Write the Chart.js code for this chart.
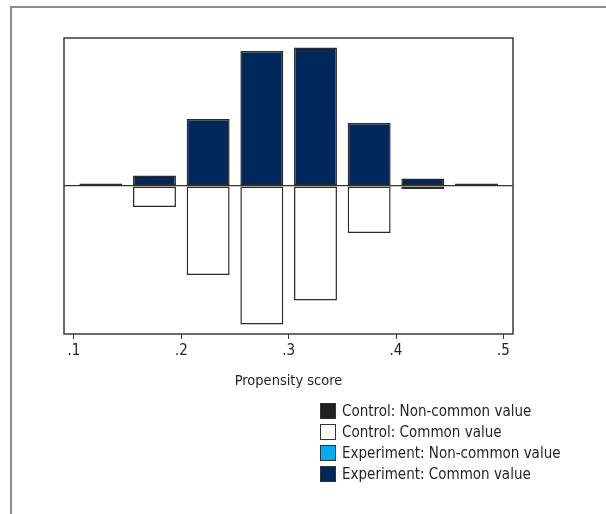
<!DOCTYPE html>
<html>
<head>
<meta charset="utf-8">
<script src="https://cdn.jsdelivr.net/npm/chart.js@4.4.1/dist/chart.umd.min.js"></script>
<style>
    html, body { margin: 0; padding: 0; background: #fff; }
    #wrap { position: relative; width: 606px; height: 514px; overflow: hidden; }
    #frame { position: absolute; left: 10px; top: 6px; width: 700px; height: 600px; border-top: 2px solid #8c8c8c; border-left: 2px solid #8c8c8c; }
    #chart { position: absolute; left: 0; top: 0; }
    #legend { position: absolute; left: 320px; top: 400px; margin: 0; padding: 0;
        font-family: "Liberation Sans Narrow", "DejaVu Sans Condensed", sans-serif;
        font-size: 15px; color: #231f20; }
    #legend li { list-style: none; display: flex; align-items: center; height: 21px; white-space: nowrap; }
    #legend .box { width: 16px; height: 16px; border: 1px solid #333; box-sizing: border-box; margin-right: 6px; }
</style>
</head>
<body>
<div id="wrap">
    <div id="frame"></div>
    <canvas id="chart" width="606" height="514"></canvas>
    <ul id="legend"></ul>
</div>
<script>
const binCenters = [0.125, 0.175, 0.225, 0.275, 0.325, 0.375, 0.425, 0.475];
const experimentCommon = [2.5, 10.5, 67, 135, 138.5, 63, 7.5, 2.5];
const controlCommon = [0, -21, -89, -138.5, -114.5, -47, -3, 0];
const seriesNames = ["Control: Non-common value", "Control: Common value", "Experiment: Non-common value", "Experiment: Common value"];
const seriesColors = ["#231f20", "#ffffff", "#00aeef", "#00285a"];
const xTicks = [0.1, 0.2, 0.3, 0.4, 0.5];
const yLimit = 148;

const fontFamily = '"Liberation Sans Narrow", "DejaVu Sans Condensed", sans-serif';

function toPoints(values) {
    return values.map((v, i) => ({ x: binCenters[i], y: v }));
}

const plotFrame = {
    id: 'plotFrame',
    afterDatasetsDraw(chart) {
        const a = chart.chartArea;
        const ctx = chart.ctx;
        ctx.save();
        ctx.strokeStyle = '#3a3a3a';
        ctx.lineWidth = 1.5;
        ctx.strokeRect(a.left, a.top, a.right - a.left, a.bottom - a.top);
        ctx.restore();
    }
};

const htmlLegend = {
    id: 'htmlLegend',
    afterUpdate(chart) {
        const list = document.getElementById('legend');
        list.innerHTML = '';
        chart.data.datasets.forEach(ds => {
            const li = document.createElement('li');
            const box = document.createElement('span');
            box.className = 'box';
            box.style.background = ds.backgroundColor;
            const text = document.createElement('span');
            text.textContent = ds.label;
            li.appendChild(box);
            li.appendChild(text);
            list.appendChild(li);
        });
    }
};

new Chart(document.getElementById('chart').getContext('2d'), {
    type: 'bar',
    data: {
        datasets: [
            { label: seriesNames[0], data: [], backgroundColor: seriesColors[0] },
            { label: seriesNames[1], data: toPoints(controlCommon), backgroundColor: seriesColors[1] },
            { label: seriesNames[2], data: [], backgroundColor: seriesColors[2] },
            { label: seriesNames[3], data: toPoints(experimentCommon), backgroundColor: seriesColors[3] }
        ]
    },
    options: {
        responsive: false,
        animation: false,
        datasets: {
            bar: {
                borderColor: '#2b2b2b',
                borderWidth: 1.5,
                borderSkipped: false,
                barPercentage: 0.8,
                categoryPercentage: 1.0
            }
        },
        layout: {
            padding: { left: 64, right: 93, top: 38, bottom: 120 }
        },
        plugins: {
            legend: { display: false },
            tooltip: { enabled: false }
        },
        scales: {
            x: {
                type: 'linear',
                stacked: true,
                offset: false,
                min: 0.0907,
                max: 0.509,
                afterBuildTicks: function(scale) {
                    scale.ticks = xTicks.map(v => ({ value: v }));
                },
                afterFit: function(scale) {
                    scale.height = 60;
                },
                grid: {
                    offset: false,
                    drawOnChartArea: false,
                    drawTicks: true,
                    tickLength: 5,
                    color: '#333'
                },
                border: { display: false },
                ticks: {
                    color: '#231f20',
                    padding: 3,
                    font: { family: fontFamily, size: 15 },
                    callback: function(value) {
                        return value.toFixed(1).replace(/^0/, '');
                    }
                },
                title: {
                    display: true,
                    text: 'Propensity score',
                    color: '#231f20',
                    padding: { top: 0, bottom: 4 },
                    font: { family: fontFamily, size: 14.5 }
                }
            },
            y: {
                stacked: true,
                min: -yLimit,
                max: yLimit,
                afterBuildTicks: function(scale) {
                    scale.ticks = [{ value: 0 }];
                },
                afterFit: function(scale) {
                    scale.width = 0;
                },
                ticks: { display: false },
                border: { display: false },
                grid: {
                    drawTicks: false,
                    color: '#333',
                    lineWidth: 1.2
                }
            }
        }
    },
    plugins: [plotFrame, htmlLegend]
});
</script>
</body>
</html>
